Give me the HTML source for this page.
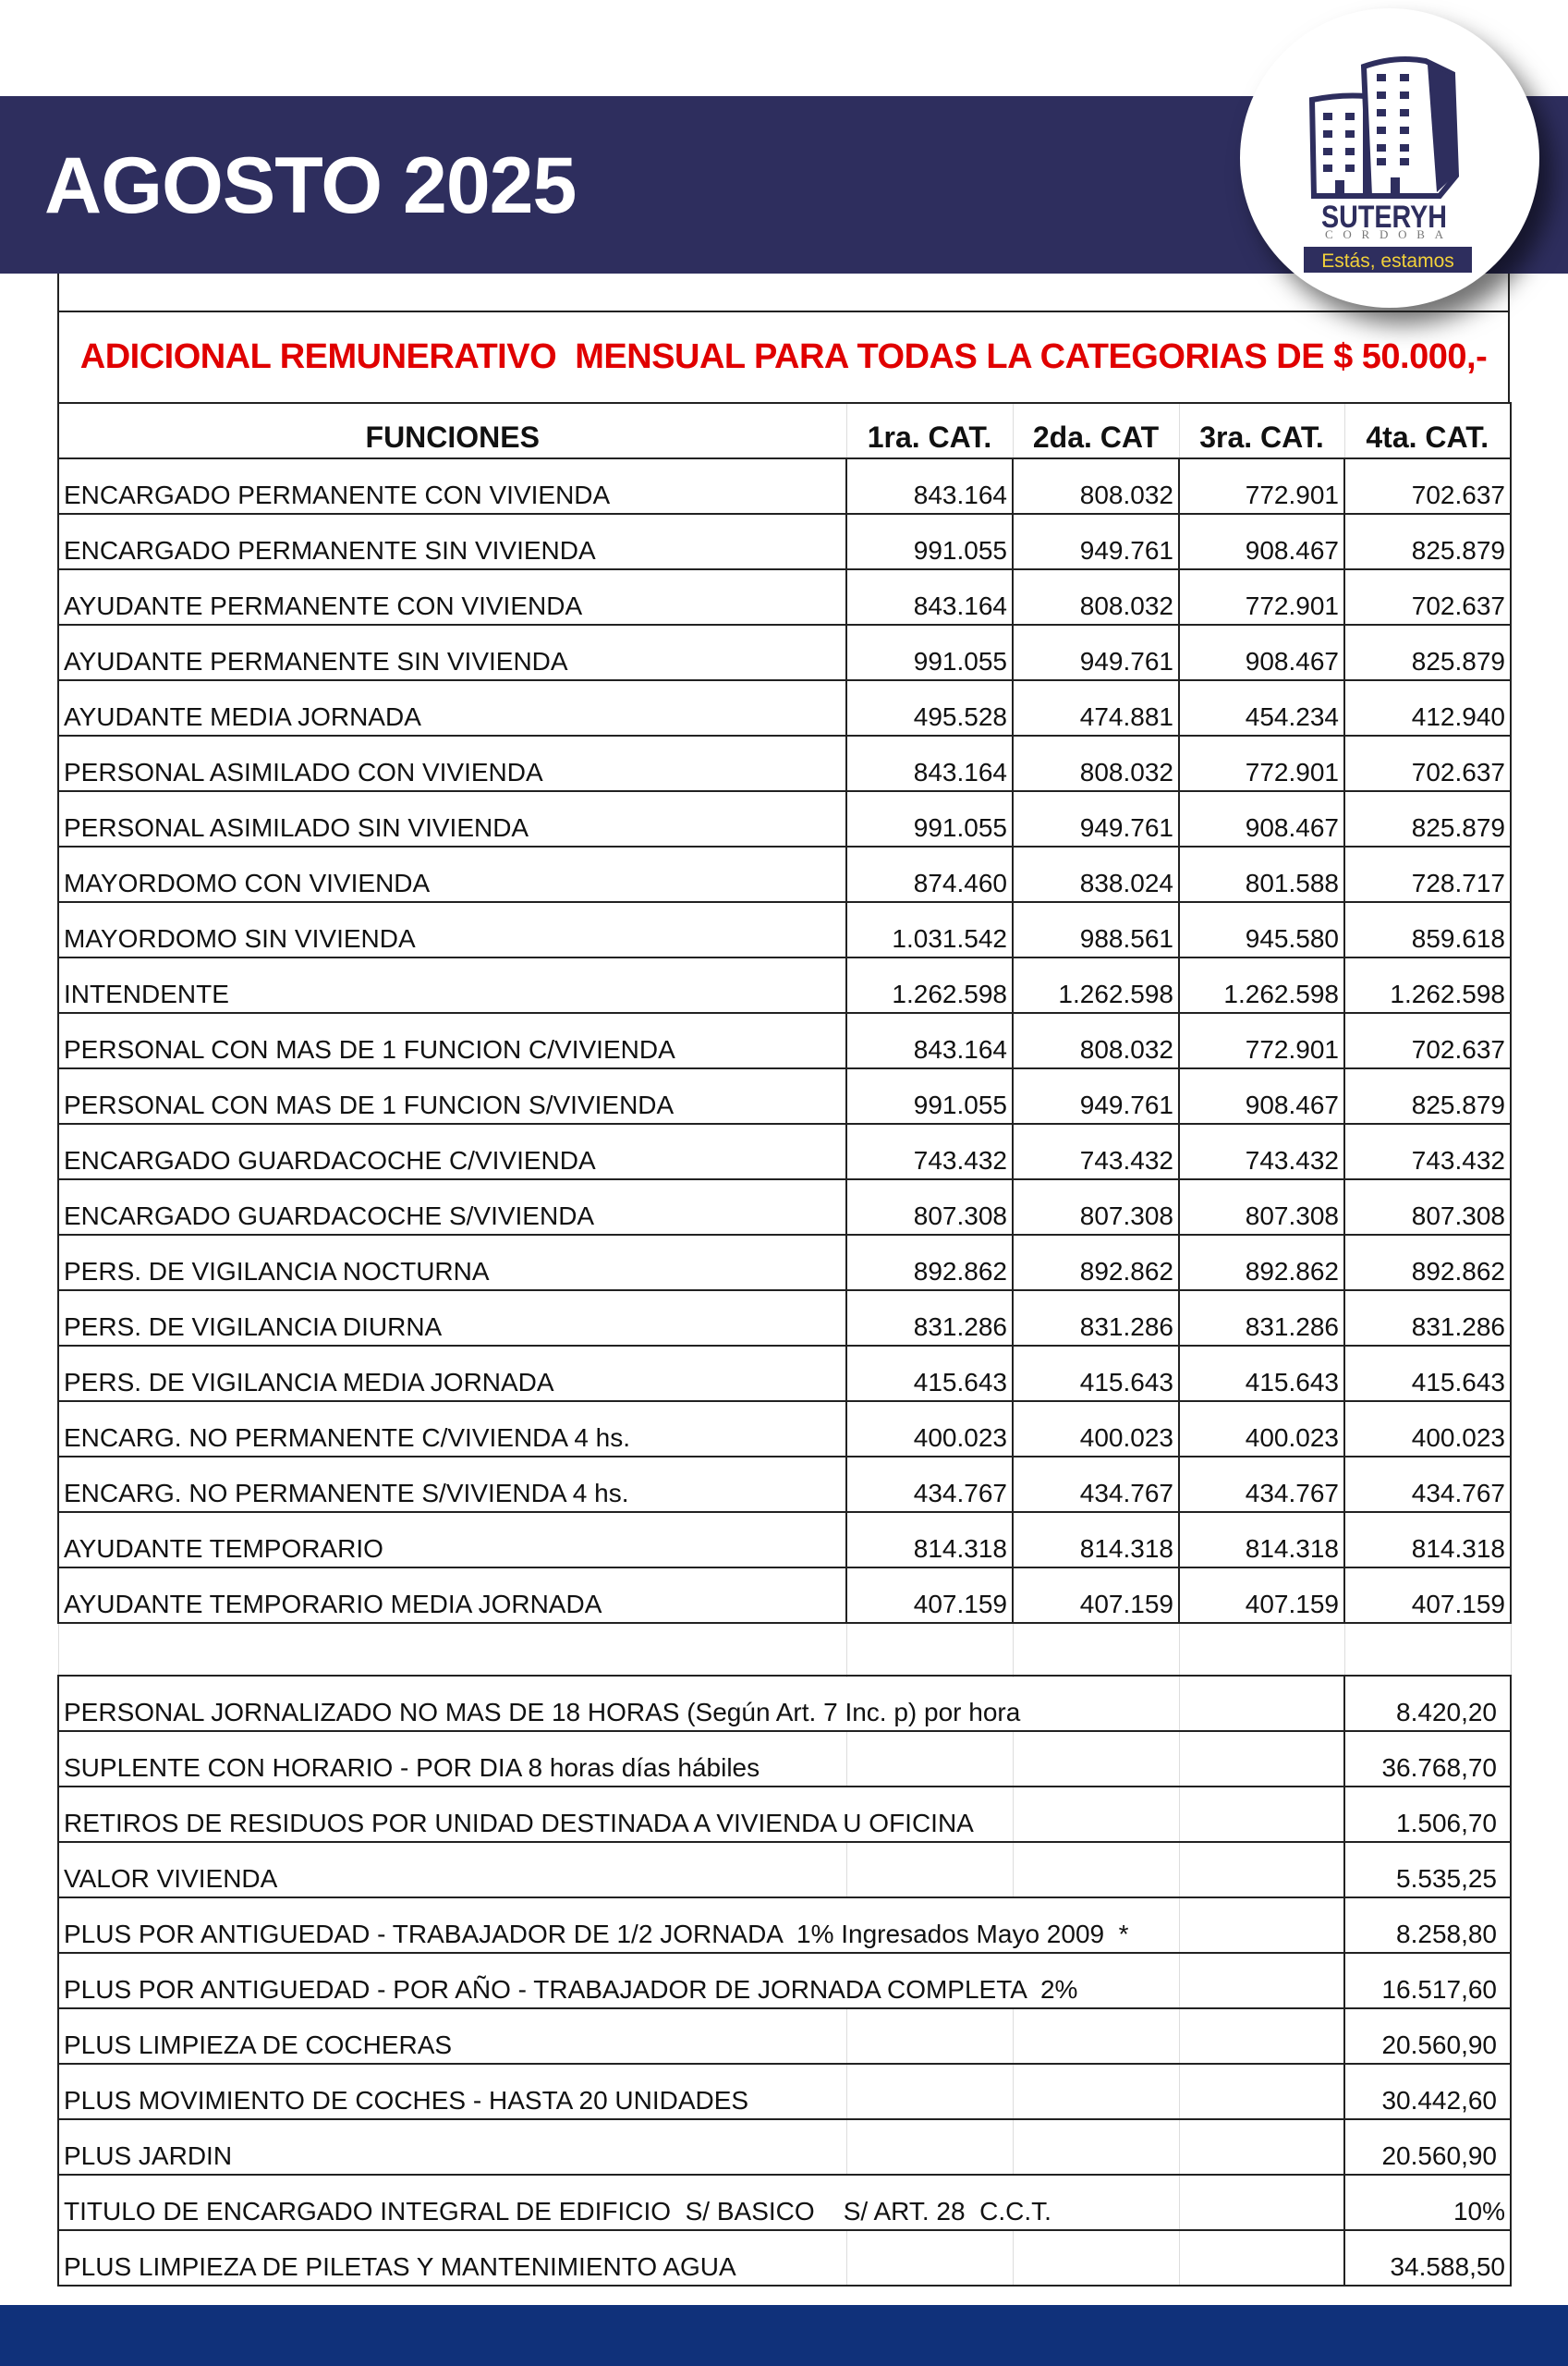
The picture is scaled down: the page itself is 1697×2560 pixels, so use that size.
<!DOCTYPE html>
<html><head><meta charset="utf-8"><style>
body{margin:0;width:1697px;height:2560px;background:#fff;position:relative;overflow:hidden;font-family:"Liberation Sans",sans-serif}
.banner{position:absolute;left:0;top:104px;width:1697px;height:192px;background:#2e2e5e}
.title{position:absolute;left:48px;top:152px;font-size:86px;font-weight:bold;color:#fff;letter-spacing:-1px}
.foot{position:absolute;left:0;top:2494px;width:1697px;height:66px;background:#10317a}
table{position:absolute;left:62px;border-collapse:collapse;table-layout:fixed;width:1572px}
td{padding:0 5px;font-size:28px;color:#111;white-space:nowrap;overflow:hidden;vertical-align:bottom;padding-bottom:3px}
.t1 td{border:2px solid #222;height:55px}
.t1 td.n{text-align:right}
.g td{border-top:none;border-bottom:none;border-left:1px solid #ddd;border-right:1px solid #ddd}
.t2 td{border-top:2px solid #222;border-bottom:2px solid #222;height:55px}
.t2 td.l{border-left:2px solid #222}
.t2 td.e{border-left:1px solid #ddd}
.t2 td.v{border-left:2px solid #222;border-right:2px solid #222;text-align:right;padding-right:14px}
</style></head><body>
<div class="banner"></div>
<div class="title">AGOSTO 2025</div>
<div style="position:absolute;left:1342px;top:9px;width:324px;height:324px;border-radius:50%;background:#fff;box-shadow:14px 18px 26px rgba(0,0,0,0.55)"></div>
<svg style="position:absolute;left:1340px;top:0" width="357" height="340">
<path d="M80 108 Q110 102 138 104 L138 212 L82 212 Z" fill="#fff" stroke="#2e2e5e" stroke-width="6"/>
<path d="M136 72 Q170 60 203 66 L232 80 L236 190 L218 212 L142 212 Z" fill="#fff" stroke="#2e2e5e" stroke-width="6"/>
<path d="M205 70 L232 82 L234 190 L215 208 Z" fill="#2e2e5e"/>
<g fill="#2e2e5e">
<rect x="92" y="122" width="10" height="8"/><rect x="116" y="122" width="10" height="8"/>
<rect x="92" y="141" width="10" height="8"/><rect x="116" y="141" width="10" height="8"/>
<rect x="92" y="160" width="10" height="8"/><rect x="116" y="160" width="10" height="8"/>
<rect x="92" y="178" width="10" height="8"/><rect x="116" y="178" width="10" height="8"/>
<rect x="150" y="80" width="10" height="8"/><rect x="175" y="80" width="10" height="8"/>
<rect x="150" y="99" width="10" height="8"/><rect x="175" y="99" width="10" height="8"/>
<rect x="150" y="118" width="10" height="8"/><rect x="175" y="118" width="10" height="8"/>
<rect x="150" y="137" width="10" height="8"/><rect x="175" y="137" width="10" height="8"/>
<rect x="150" y="156" width="10" height="8"/><rect x="175" y="156" width="10" height="8"/>
<rect x="150" y="171" width="10" height="8"/><rect x="175" y="171" width="10" height="8"/>
<rect x="105" y="195" width="10" height="16"/><rect x="165" y="192" width="10" height="19"/>
</g>
<text x="158" y="246" text-anchor="middle" font-family="Liberation Sans" font-size="34" font-weight="bold" fill="#2e2e5e" textLength="136" lengthAdjust="spacingAndGlyphs">SUTERYH</text>
<text x="158" y="258" text-anchor="middle" font-family="Liberation Serif" font-size="13" fill="#777" textLength="128" lengthAdjust="spacing">CORDOBA</text>
<rect x="71" y="267" width="182" height="28" fill="#2e2e5e"/>
<text x="162" y="289" text-anchor="middle" font-family="Liberation Sans" font-size="21" fill="#f2d13a">Estás, estamos</text>
</svg>
<div style="position:absolute;left:62px;top:296px;width:1568px;height:40px;border-left:2px solid #222;border-right:2px solid #222"></div>
<div style="position:absolute;left:62px;top:336px;width:1568px;height:97px;border:2px solid #222;text-align:center;line-height:97px;color:#e00000;font-weight:bold;font-size:38px;letter-spacing:-0.5px;white-space:nowrap">ADICIONAL REMUNERATIVO &nbsp;MENSUAL PARA TODAS LA CATEGORIAS DE $ 50.000,-</div>
<table class="t1" style="top:435px">
<colgroup><col style="width:853px"><col style="width:180px"><col style="width:180px"><col style="width:179px"><col style="width:180px"></colgroup>
<tr style="font-weight:bold"><td style="text-align:center;font-weight:bold;font-size:32px;border-right:1px solid #ddd">FUNCIONES</td><td style="text-align:center;font-weight:bold;font-size:32px;border-right:1px solid #ddd;border-left:1px solid #ddd">1ra. CAT.</td><td style="text-align:center;font-weight:bold;font-size:32px;border-left:1px solid #ddd;border-right:1px solid #ddd">2da. CAT</td><td style="text-align:center;font-weight:bold;font-size:32px;border-left:1px solid #ddd;border-right:1px solid #ddd">3ra. CAT.</td><td style="text-align:center;font-weight:bold;font-size:32px;border-left:1px solid #ddd">4ta. CAT.</td></tr>
<tr><td>ENCARGADO PERMANENTE CON VIVIENDA</td><td class="n">843.164</td><td class="n">808.032</td><td class="n">772.901</td><td class="n">702.637</td></tr>
<tr><td>ENCARGADO PERMANENTE SIN VIVIENDA</td><td class="n">991.055</td><td class="n">949.761</td><td class="n">908.467</td><td class="n">825.879</td></tr>
<tr><td>AYUDANTE PERMANENTE CON VIVIENDA</td><td class="n">843.164</td><td class="n">808.032</td><td class="n">772.901</td><td class="n">702.637</td></tr>
<tr><td>AYUDANTE PERMANENTE SIN VIVIENDA</td><td class="n">991.055</td><td class="n">949.761</td><td class="n">908.467</td><td class="n">825.879</td></tr>
<tr><td>AYUDANTE MEDIA JORNADA</td><td class="n">495.528</td><td class="n">474.881</td><td class="n">454.234</td><td class="n">412.940</td></tr>
<tr><td>PERSONAL ASIMILADO CON VIVIENDA</td><td class="n">843.164</td><td class="n">808.032</td><td class="n">772.901</td><td class="n">702.637</td></tr>
<tr><td>PERSONAL ASIMILADO SIN VIVIENDA</td><td class="n">991.055</td><td class="n">949.761</td><td class="n">908.467</td><td class="n">825.879</td></tr>
<tr><td>MAYORDOMO CON VIVIENDA</td><td class="n">874.460</td><td class="n">838.024</td><td class="n">801.588</td><td class="n">728.717</td></tr>
<tr><td>MAYORDOMO SIN VIVIENDA</td><td class="n">1.031.542</td><td class="n">988.561</td><td class="n">945.580</td><td class="n">859.618</td></tr>
<tr><td>INTENDENTE</td><td class="n">1.262.598</td><td class="n">1.262.598</td><td class="n">1.262.598</td><td class="n">1.262.598</td></tr>
<tr><td>PERSONAL CON MAS DE 1 FUNCION C/VIVIENDA</td><td class="n">843.164</td><td class="n">808.032</td><td class="n">772.901</td><td class="n">702.637</td></tr>
<tr><td>PERSONAL CON MAS DE 1 FUNCION S/VIVIENDA</td><td class="n">991.055</td><td class="n">949.761</td><td class="n">908.467</td><td class="n">825.879</td></tr>
<tr><td>ENCARGADO GUARDACOCHE C/VIVIENDA</td><td class="n">743.432</td><td class="n">743.432</td><td class="n">743.432</td><td class="n">743.432</td></tr>
<tr><td>ENCARGADO GUARDACOCHE S/VIVIENDA</td><td class="n">807.308</td><td class="n">807.308</td><td class="n">807.308</td><td class="n">807.308</td></tr>
<tr><td>PERS. DE VIGILANCIA NOCTURNA</td><td class="n">892.862</td><td class="n">892.862</td><td class="n">892.862</td><td class="n">892.862</td></tr>
<tr><td>PERS. DE VIGILANCIA DIURNA</td><td class="n">831.286</td><td class="n">831.286</td><td class="n">831.286</td><td class="n">831.286</td></tr>
<tr><td>PERS. DE VIGILANCIA MEDIA JORNADA</td><td class="n">415.643</td><td class="n">415.643</td><td class="n">415.643</td><td class="n">415.643</td></tr>
<tr><td>ENCARG. NO PERMANENTE C/VIVIENDA 4 hs.</td><td class="n">400.023</td><td class="n">400.023</td><td class="n">400.023</td><td class="n">400.023</td></tr>
<tr><td>ENCARG. NO PERMANENTE S/VIVIENDA 4 hs.</td><td class="n">434.767</td><td class="n">434.767</td><td class="n">434.767</td><td class="n">434.767</td></tr>
<tr><td>AYUDANTE TEMPORARIO</td><td class="n">814.318</td><td class="n">814.318</td><td class="n">814.318</td><td class="n">814.318</td></tr>
<tr><td>AYUDANTE TEMPORARIO MEDIA JORNADA</td><td class="n">407.159</td><td class="n">407.159</td><td class="n">407.159</td><td class="n">407.159</td></tr>
<tr class="g"><td style="border-left:1px solid #ddd"></td><td></td><td></td><td></td><td></td></tr>
</table>
<table class="t2" style="top:1812px">
<colgroup><col style="width:853px"><col style="width:180px"><col style="width:180px"><col style="width:179px"><col style="width:180px"></colgroup>
<tr><td class="l" colspan="3">PERSONAL JORNALIZADO NO MAS DE 18 HORAS (Según Art. 7 Inc. p) por hora</td><td class="e"></td><td class="v">8.420,20</td></tr>
<tr><td class="l">SUPLENTE CON HORARIO - POR DIA 8 horas días hábiles</td><td class="e"></td><td class="e"></td><td class="e"></td><td class="v">36.768,70</td></tr>
<tr><td class="l" colspan="2">RETIROS DE RESIDUOS POR UNIDAD DESTINADA A VIVIENDA U OFICINA</td><td class="e"></td><td class="e"></td><td class="v">1.506,70</td></tr>
<tr><td class="l">VALOR VIVIENDA</td><td class="e"></td><td class="e"></td><td class="e"></td><td class="v">5.535,25</td></tr>
<tr><td class="l" colspan="3">PLUS POR ANTIGUEDAD - TRABAJADOR DE 1/2 JORNADA &nbsp;1% Ingresados Mayo 2009 &nbsp;*</td><td class="e"></td><td class="v">8.258,80</td></tr>
<tr><td class="l" colspan="3">PLUS POR ANTIGUEDAD - POR AÑO - TRABAJADOR DE JORNADA COMPLETA &nbsp;2%</td><td class="e"></td><td class="v">16.517,60</td></tr>
<tr><td class="l">PLUS LIMPIEZA DE COCHERAS</td><td class="e"></td><td class="e"></td><td class="e"></td><td class="v">20.560,90</td></tr>
<tr><td class="l">PLUS MOVIMIENTO DE COCHES - HASTA 20 UNIDADES</td><td class="e"></td><td class="e"></td><td class="e"></td><td class="v">30.442,60</td></tr>
<tr><td class="l">PLUS JARDIN</td><td class="e"></td><td class="e"></td><td class="e"></td><td class="v">20.560,90</td></tr>
<tr><td class="l" colspan="3">TITULO DE ENCARGADO INTEGRAL DE EDIFICIO &nbsp;S/ BASICO &nbsp;&nbsp;&nbsp;S/ ART. 28 &nbsp;C.C.T.</td><td class="e"></td><td class="v" style="padding-right:5px">10%</td></tr>
<tr><td class="l">PLUS LIMPIEZA DE PILETAS Y MANTENIMIENTO AGUA</td><td class="e"></td><td class="e"></td><td class="e"></td><td class="v" style="padding-right:5px">34.588,50</td></tr>
</table>
<div class="foot"></div>
</body></html>
